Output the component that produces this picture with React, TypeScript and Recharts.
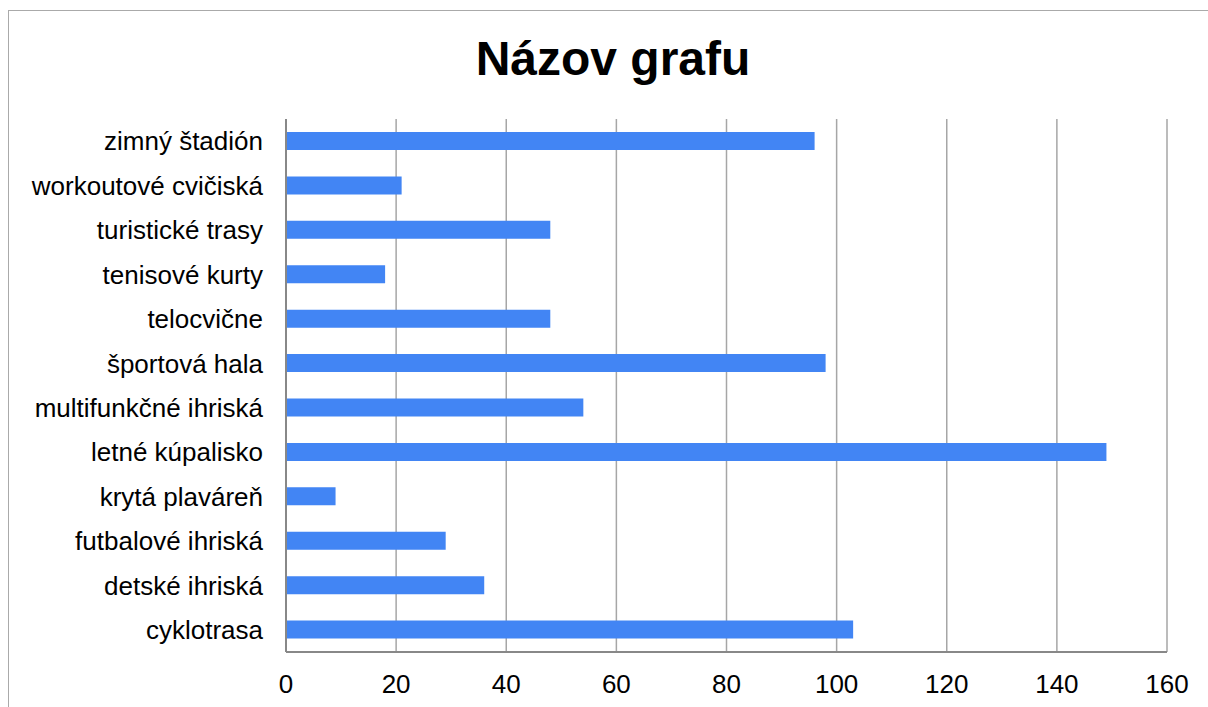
import { Bar, BarChart, CartesianGrid, XAxis, YAxis } from "recharts"

const categories = [
    "zimný štadión",
    "workoutové cvičiská",
    "turistické trasy",
    "tenisové kurty",
    "telocvične",
    "športová hala",
    "multifunkčné ihriská",
    "letné kúpalisko",
    "krytá plaváreň",
    "futbalové ihriská",
    "detské ihriská",
    "cyklotrasa",
]

const values = [96, 21, 48, 18, 48, 98, 54, 149, 9, 29, 36, 103]

const xTicks = [0, 20, 40, 60, 80, 100, 120, 140, 160]

const data = categories.map((name, i) => ({ name, value: values[i] }))

const font = "'Liberation Sans', Arial, sans-serif"

export default function App() {
    return (
        <div
            style={{
                position: "absolute",
                left: 8,
                top: 10,
                width: 1200,
                height: 697,
                borderLeft: "1px solid #aaaaaa",
                borderTop: "1px solid #aaaaaa",
                background: "#fff",
                fontFamily: font,
            }}
        >
            <div
                style={{
                    position: "absolute",
                    left: 4,
                    top: 20,
                    width: 1200,
                    textAlign: "center",
                    fontSize: 48,
                    fontWeight: "bold",
                    color: "#000",
                    lineHeight: "56px",
                }}
            >
                Názov grafu
            </div>
            <BarChart
                width={1200}
                height={697}
                data={data}
                layout="vertical"
                margin={{ top: 108, right: 42, bottom: 0, left: 0 }}
            >
                <CartesianGrid horizontal={false} stroke="#a6a6a6" strokeWidth={1.5} />
                <XAxis
                    type="number"
                    domain={[0, 160]}
                    ticks={xTicks}
                    height={56}
                    tickLine={false}
                    axisLine={{ stroke: "#888888", strokeWidth: 2 }}
                    tick={{ fill: "#000", fontSize: 26, fontFamily: font }}
                    tickMargin={17}
                />
                <YAxis
                    type="category"
                    dataKey="name"
                    width={277}
                    tickLine={false}
                    axisLine={{ stroke: "#888888", strokeWidth: 2 }}
                    tick={{ fill: "#000", fontSize: 26, fontFamily: font }}
                    tickMargin={17}
                    interval={0}
                />
                <Bar dataKey="value" fill="#4285f4" barSize={18} isAnimationActive={false} />
            </BarChart>
        </div>
    )
}
